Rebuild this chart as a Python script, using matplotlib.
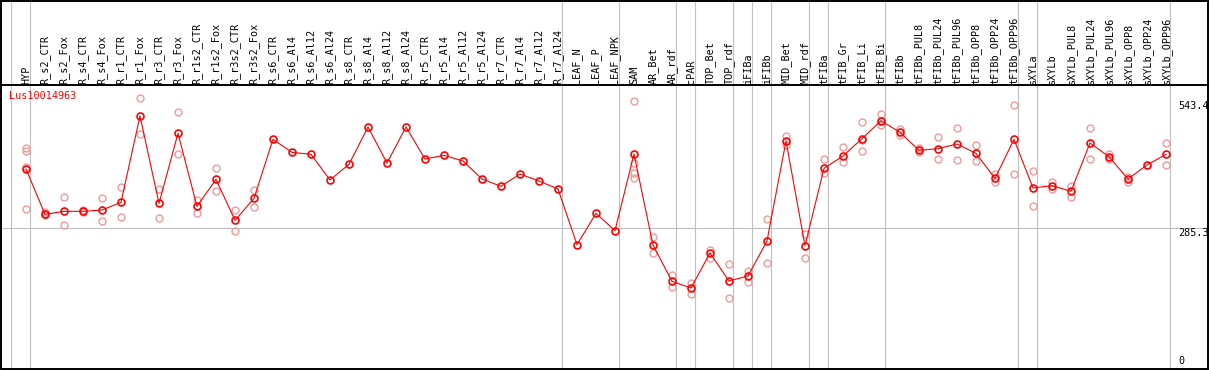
import numpy as np
import matplotlib
matplotlib.use('Agg')
import matplotlib.pyplot as plt
from matplotlib.patches import Rectangle

# categories (left to right)
categorias = ['HYP', 'R_s2_CTR', 'R_s2_Fox', 'R_s4_CTR', 'R_s4_Fox', 'R_r1_CTR', 'R_r1_Fox',
              'R_r3_CTR', 'R_r3_Fox', 'R_r1s2_CTR', 'R_r1s2_Fox', 'R_r3s2_CTR', 'R_r3s2_Fox',
              'R_s6_CTR', 'R_s6_Al4', 'R_s6_Al12', 'R_s6_Al24', 'R_s8_CTR', 'R_s8_Al4',
              'R_s8_Al12', 'R_s8_Al24', 'R_r5_CTR', 'R_r5_Al4', 'R_r5_Al12', 'R_r5_Al24',
              'R_r7_CTR', 'R_r7_Al4', 'R_r7_Al12', 'R_r7_Al24', 'LEAF_N', 'LEAF_P', 'LEAF_NPK',
              'SAM', 'AR_Bet', 'AR_rdf', 'cPAR', 'TOP_Bet', 'TOP_rdf', 'iFIBa', 'iFIBb',
              'MID_Bet', 'MID_rdf', 'tFIBa', 'tFIB_Gr', 'tFIB_Li', 'tFIB_Bi', 'tFIBb',
              'tFIBb_PUL8', 'tFIBb_PUL24', 'tFIBb_PUL96', 'tFIBb_OPP8', 'tFIBb_OPP24',
              'tFIBb_OPP96', 'sXYLa', 'sXYLb', 'sXYLb_PUL8', 'sXYLb_PUL24', 'sXYLb_PUL96',
              'sXYLb_OPP8', 'sXYLb_OPP24', 'sXYLb_OPP96']

# mean expression per sample
medias = [406.1, 314.0, 320.1, 320.1, 322.8, 338.4, 513.7, 336.4, 478.5, 330.3, 385.1, 301.9,
          346.5, 466.3, 439.9, 435.9, 383.8, 415.6, 491.4, 418.3, 491.4, 426.4, 433.8, 422.3,
          385.8, 370.9, 395.9, 381.7, 365.5, 252.5, 316.1, 280.9, 436.5, 251.8, 178.0, 164.5,
          235.5, 178.7, 188.8, 259.9, 462.9, 250.4, 407.4, 432.5, 467.7, 504.2, 480.5, 444.0,
          447.4, 456.9, 437.9, 387.1, 466.3, 367.5, 372.3, 360.7, 458.9, 431.1, 385.8, 414.2,
          435.9]

# replicates (visible ones)
replicas = [[449.4, 442.6, 410.8, 324.9], [318.0, 312.0], [348.6, 291.7], [318.0, 322.0],
            [346.5, 299.8], [368.9, 308.0], [549.6, 476.5], [365.5, 306.6], [521.2, 435.9],
            [343.1, 317.4], [408.8, 360.7], [322.2, 279.5], [362.8, 328.3],
            [], [], [], [], [], [], [], [], [], [], [], [], [], [], [], [], [], [], [],
            [543.4, 419.0, 397.3, 387.1], [268.0, 235.5], [190.9, 165.8], [175.3, 152.3],
            [241.6, 226.1], [213.2, 143.5], [199.7, 176.0], [304.6, 215.2], [473.8, 454.1],
            [274.1, 225.4], [426.4, 397.3], [450.1, 421.0], [501.5, 442.6, 464.9],
            [517.8, 494.8], [488.0, 475.8], [448.1, 439.9], [471.1, 425.7], [489.3, 424.4],
            [454.8, 421.7], [395.3, 380.4], [536.0, 395.9], [402.0, 330.3], [379.0, 366.2],
            [372.3, 349.9], [489.3, 425.7], [437.2, 425.7], [389.8, 380.4], [],
            [458.9, 413.5]]

# group separators (after these sample indexes)
fim_grupo = [0, 28, 31, 34, 35, 37, 38, 39, 41, 42, 45, 52, 53, 60]
ticks_y = [543.4, 285.3, 0]
gene = 'Lus10014963'

# pixel layout of the figure
W, H = 1209, 370
x0, dx = 26.0, 19.0          # pixel of first sample, pixel step
yb, k = 369.0, 0.4925        # pixel of value 0, pixels per unit

def vy(py):
    return (yb - py) / k

def ix(px):
    return (px - x0) / dx

fonte = dict(family='DejaVu Sans Mono', fontsize=7.3)

fig = plt.figure(figsize=(W / 100, H / 100), dpi=100)
ax = fig.add_axes([0, 0, 1, 1])
ax.set_xlim(ix(0), ix(W))
ax.set_ylim(vy(H), vy(0))
ax.axis('off')

x = np.arange(len(categorias))

# grid
ax.axvline(-0.78, color='#c0c0c0', lw=0.8, zorder=1)
for g in fim_grupo:
    ax.axvline(g + 0.23, color='#c0c0c0', lw=0.8, zorder=1)
ax.axhline(ticks_y[1], color='#c0c0c0', lw=0.8, zorder=1)
ax.axhline(vy(85), color='black', lw=1.4, zorder=3)

# replicates
for i, reps in enumerate(replicas):
    ax.plot([x[i]] * len(reps), reps, 'o', ms=5, mfc='none', mec='#f09a9a',
            mew=1.0, zorder=2)

# means
ax.plot(x, medias, '-', color='red', lw=0.8, zorder=4)
ax.plot(x, medias, 'o', ms=5, mfc='none', mec='red', mew=1.2, zorder=5)

# labels on top
for i, c in enumerate(categorias):
    ax.text(x[i], vy(84), c, rotation=90, ha='center', va='bottom', color='black', **fonte)

ax.text(ix(9), vy(91), gene, color='red', ha='left', va='top', **fonte)

# right axis values
for t in ticks_y[:2]:
    ax.text(ix(1178), t, '%.1f' % t, ha='left', va='top', **fonte)
ax.annotate('0', (ix(1178), ticks_y[2]), xytext=(0, 2), textcoords='offset points',
            ha='left', va='bottom', **fonte)

# frame
ax.add_patch(Rectangle((1 / W, 1 / H), (W - 2.5) / W, (H - 2) / H, transform=ax.transAxes,
                       fill=False, ec='black', lw=1.4, clip_on=False, zorder=6))

fig.savefig('out.png', dpi=100)
